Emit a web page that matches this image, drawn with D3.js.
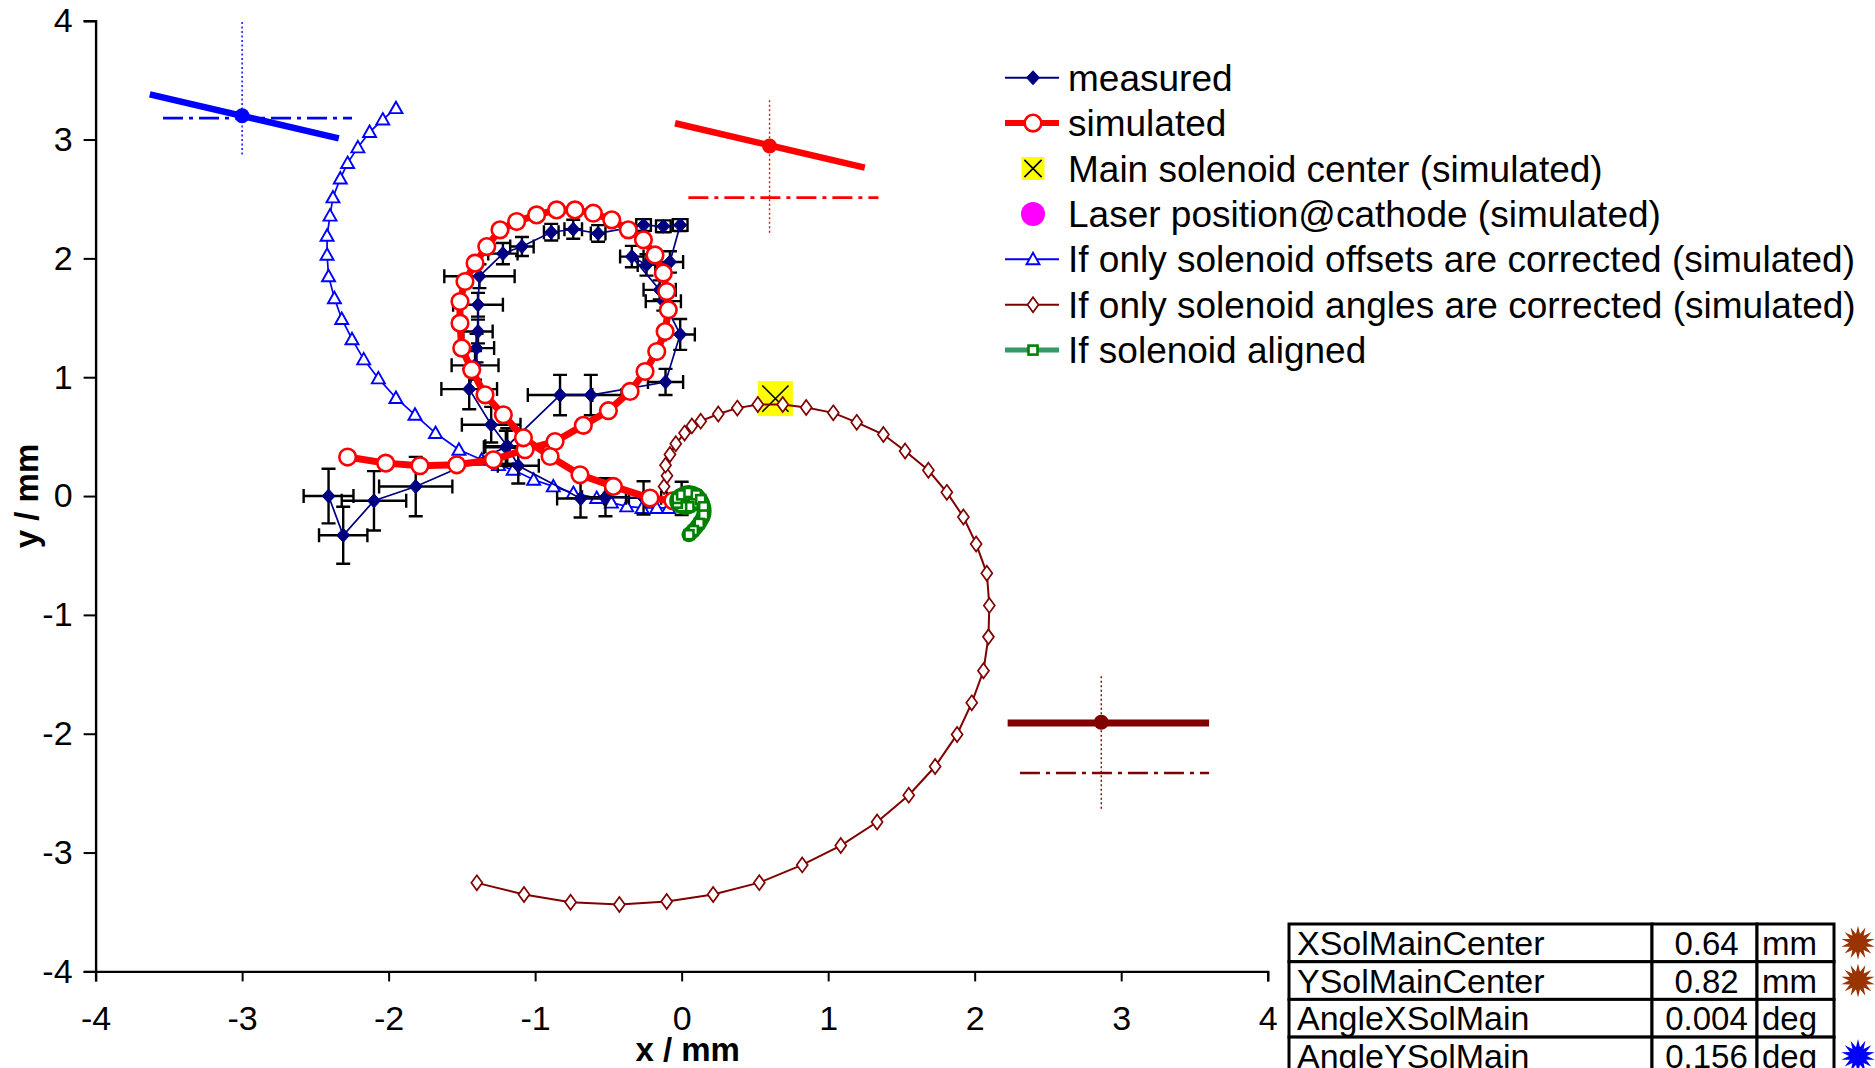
<!DOCTYPE html>
<html><head><meta charset="utf-8">
<script src="https://cdn.jsdelivr.net/npm/d3@7"></script>
<style>
html,body{margin:0;padding:0;background:#fff;}
svg{display:block;}
text{font-family:"Liberation Sans",Arial,sans-serif;fill:#000;}
</style></head><body>
<svg id="chart" width="1875" height="1068"></svg>
<script>
// ---- axis ticks ----
const xTicks = [-4, -3, -2, -1, 0, 1, 2, 3, 4];
const yTicks = [-4, -3, -2, -1, 0, 1, 2, 3, 4];

// ---- measured beam positions (mm) with errors ----
const measX  = [0.00,-0.26,-0.52,-0.69,-1.115,-1.19,-1.30,-1.45,-1.41,-1.40,-1.39,-1.39,-1.38,-1.22,-1.09,-0.89,-0.74,-0.57,-0.26,-0.125,-0.01,-0.08,-0.24,-0.34,-0.15,-0.125,-0.01,-0.11,-0.62,-0.83,-1.20,-1.815,-2.10,-2.31,-2.41];
const measY  = [-0.02,-0.015,-0.01,-0.02,0.255,0.42,0.60,0.90,1.10,1.245,1.385,1.61,1.85,2.04,2.10,2.22,2.245,2.21,2.28,2.27,2.28,1.97,1.945,2.015,1.735,1.64,1.36,0.96,0.85,0.85,0.41,0.08,-0.04,-0.33,0.00];
const measEx = [0.10,0.12,0.16,0.16,0.14,0.15,0.20,0.19,0.16,0.12,0.10,0.17,0.24,0.10,0.08,0.05,0.06,0.05,0.05,0.05,0.05,0.09,0.06,0.08,0.11,0.12,0.10,0.12,0.21,0.22,0.15,0.25,0.22,0.165,0.17];
const measEy = [0.14,0.14,0.16,0.16,0.15,0.15,0.15,0.17,0.12,0.12,0.10,0.10,0.10,0.09,0.08,0.07,0.08,0.07,0.05,0.05,0.05,0.09,0.09,0.09,0.08,0.08,0.13,0.11,0.17,0.17,0.14,0.25,0.25,0.24,0.23];

// ---- simulated trajectory ----
const simX = [-2.28,-2.02,-1.786,-1.535,-1.285,-1.069,-0.864,-0.671,-0.50,-0.352,-0.25,-0.17,-0.113,-0.091,-0.102,-0.125,-0.182,-0.261,-0.364,-0.477,-0.603,-0.728,-0.853,-0.99,-1.126,-1.24,-1.33,-1.41,-1.479,-1.513,-1.513,-1.501,-1.433,-1.342,-1.217,-1.08,-0.898,-0.694,-0.466,-0.216,-0.06];
const simY = [0.328,0.277,0.255,0.263,0.305,0.39,0.459,0.595,0.718,0.88,1.048,1.216,1.384,1.567,1.721,1.876,2.029,2.156,2.24,2.324,2.38,2.408,2.408,2.366,2.31,2.24,2.099,1.96,1.805,1.637,1.455,1.245,1.062,0.852,0.684,0.49,0.333,0.179,0.081,-0.017,-0.04];

// ---- main solenoid center (simulated) and laser spot ----
const solCenterX = [0.64], solCenterY = [0.82];
const laserX = [0.02], laserY = [-0.03];

// ---- only solenoid offsets corrected ----
const offX = [-1.95,-2.04,-2.13,-2.21,-2.28,-2.33,-2.38,-2.40,-2.42,-2.42,-2.41,-2.37,-2.32,-2.25,-2.17,-2.07,-1.95,-1.82,-1.68,-1.52,-1.365,-1.25,-1.15,-1.01,-0.876,-0.739,-0.58,-0.48,-0.375,-0.27,-0.17,-0.09];
const offY = [3.264,3.168,3.063,2.934,2.802,2.672,2.513,2.36,2.19,2.03,1.85,1.665,1.49,1.32,1.15,0.99,0.825,0.684,0.53,0.39,0.305,0.26,0.221,0.137,0.081,0.025,-0.017,-0.055,-0.087,-0.10,-0.10,-0.10];

// ---- only solenoid angles corrected ----
const angX = [-0.12,-0.10,-0.11,-0.08,-0.04,0.02,0.07,0.13,0.25,0.38,0.52,0.69,0.85,1.035,1.195,1.377,1.525,1.684,1.81,1.923,2.01,2.083,2.10,2.094,2.06,1.98,1.88,1.73,1.55,1.334,1.086,0.823,0.53,0.215,-0.102,-0.425,-0.758,-1.076,-1.398];
const angY = [0.08,0.17,0.26,0.35,0.44,0.53,0.59,0.63,0.69,0.74,0.77,0.77,0.745,0.70,0.62,0.518,0.379,0.217,0.031,-0.176,-0.403,-0.65,-0.92,-1.185,-1.47,-1.74,-2.006,-2.276,-2.517,-2.743,-2.941,-3.104,-3.253,-3.353,-3.412,-3.437,-3.418,-3.353,-3.255];

// ---- solenoid aligned ----
const algX = [0.02,0.05,0.08,0.08,0.05,0.00,-0.03,-0.03,0.00,0.05,0.10,0.13,0.15,0.15,0.12,0.08,0.05];
const algY = [-0.03,0.00,-0.02,-0.06,-0.09,-0.09,-0.06,-0.02,0.01,0.03,0.01,-0.03,-0.09,-0.16,-0.23,-0.29,-0.325];

// ---- beam direction indicators (mm) ----
const indBlue    = {lx:[-3.63,-2.34], ly:[3.38,3.01], px:-3.0,  py:3.20,  vy:[3.99,2.86],  hy:3.18,  hx:[-3.54,-2.25]};
const indRed     = {lx:[-0.045,1.25], ly:[3.137,2.764], px:0.60, py:2.946, vy:[3.33,2.20], hy:2.511, hx:[0.046,1.343]};
const indDarkRed = {lx:[2.225,3.60], ly:[-1.909,-1.909], px:2.864, py:-1.904, vy:[-1.517,-2.638], hy:-2.33, hx:[2.309,3.60]};

// ---- legend labels ----
const legendLabels = ["measured","simulated","Main solenoid center (simulated)","Laser position@cathode (simulated)","If only solenoid offsets are corrected (simulated)","If only solenoid angles are corrected (simulated)","If solenoid aligned"];

// ---- parameter table ----
const tableNames  = ["XSolMainCenter","YSolMainCenter","AngleXSolMain","AngleYSolMain"];
const tableValues = ["0.64","0.82","0.004","0.156"];
const tableUnits  = ["mm","mm","deg","deg"];
const tableStars  = ["#993300","#993300",null,"#0000FF"];

// ================= drawing =================
const svg = d3.select("#chart");
const x = d3.scaleLinear().domain([-4, 4]).range([95.6, 1267.7]);
const y = d3.scaleLinear().domain([-4, 4]).range([971.4, 20.7]);

const C = {navy:"#000080", red:"#FF0000", blue:"#0000FF", brown:"#800000", green:"#008000", greenLine:"#339966", magenta:"#FF00FF", yellow:"#FFFF00"};
const minus = d => d < 0 ? "-" + Math.abs(d) : String(d);

// axes
const gx = svg.append("g").attr("transform", `translate(0,${y(-4)})`)
  .call(d3.axisBottom(x).tickValues(xTicks).tickSize(10).tickPadding(24).tickFormat(minus));
const gy = svg.append("g").attr("transform", `translate(${x(-4)},0)`)
  .call(d3.axisLeft(y).tickValues(yTicks).tickSize(12).tickPadding(11).tickFormat(minus));
[gx, gy].forEach(g => {
  g.select(".domain").attr("stroke", "#000").attr("stroke-width", 2.4);
  g.selectAll(".tick line").attr("stroke", "#000").attr("stroke-width", 2);
  g.selectAll(".tick text").attr("font-size", 34).attr("font-family", "Liberation Sans, Arial, sans-serif").attr("fill", "#000");
});

svg.append("text").attr("x", x(0) + 6).attr("y", 1061).attr("text-anchor", "middle")
  .attr("font-size", 33).attr("font-weight", "bold").text("x / mm");
svg.append("text").attr("transform", `translate(38,${y(0)}) rotate(-90)`).attr("text-anchor", "middle")
  .attr("font-size", 33).attr("font-weight", "bold").text("y / mm");

// marker shapes
function marker(g, type, cx, cy, size) {
  switch (type) {
    case "measured":
      g.append("path").attr("d", `M${cx},${cy-7}L${cx+6.5},${cy}L${cx},${cy+7}L${cx-6.5},${cy}Z`).attr("fill", C.navy).attr("stroke", C.navy).attr("stroke-width", 1);
      break;
    case "simulated":
      g.append("circle").attr("cx", cx).attr("cy", cy).attr("r", 8.3).attr("fill", "#fff").attr("stroke", C.red).attr("stroke-width", 2.6);
      break;
    case "offsets":
      g.append("path").attr("d", `M${cx},${cy-6.5}L${cx+6.5},${cy+5}L${cx-6.5},${cy+5}Z`).attr("fill", "#fff").attr("stroke", C.blue).attr("stroke-width", 1.9);
      break;
    case "angles":
      g.append("path").attr("d", `M${cx},${cy-7.5}L${cx+5.5},${cy}L${cx},${cy+7.5}L${cx-5.5},${cy}Z`).attr("fill", "#fff").attr("stroke", C.brown).attr("stroke-width", 1.7);
      break;
    case "aligned":
      g.append("rect").attr("x", cx-4.5).attr("y", cy-4.5).attr("width", 9).attr("height", 9).attr("fill", "#fff").attr("stroke", C.green).attr("stroke-width", 2.6);
      break;
    case "laser":
      g.append("circle").attr("cx", cx).attr("cy", cy).attr("r", 12).attr("fill", C.magenta);
      break;
    case "center": {
      const s = size || 12;
      g.append("rect").attr("x", cx-s).attr("y", cy-s).attr("width", 2*s).attr("height", 2*s).attr("fill", C.yellow);
      g.append("path").attr("d", `M${cx-s*0.75},${cy-s*0.75}L${cx+s*0.75},${cy+s*0.75}M${cx+s*0.75},${cy-s*0.75}L${cx-s*0.75},${cy+s*0.75}`)
        .attr("stroke", "#000").attr("stroke-width", 1.6);
      break;
    }
  }
}

const line = d3.line().x(d => x(d[0])).y(d => y(d[1]));
const zip = (a, b) => a.map((v, i) => [v, b[i]]);

const plot = svg.append("g");

// beam direction indicators
[[indBlue, C.blue, 6.5], [indRed, C.red, 6.5], [indDarkRed, C.brown, 7]].forEach(([d, col, w]) => {
  const g = plot.append("g");
  g.append("line").attr("x1", x(d.px)).attr("x2", x(d.px)).attr("y1", y(d.vy[0])).attr("y2", y(d.vy[1]))
    .attr("stroke", col).attr("stroke-width", 1.4).attr("stroke-dasharray", "2,2.5");
  g.append("line").attr("x1", x(d.hx[0])).attr("x2", x(d.hx[1])).attr("y1", y(d.hy)).attr("y2", y(d.hy))
    .attr("stroke", col).attr("stroke-width", 2.6).attr("stroke-dasharray", "20,6,4,6");
  g.append("line").attr("x1", x(d.lx[0])).attr("x2", x(d.lx[1])).attr("y1", y(d.ly[0])).attr("y2", y(d.ly[1]))
    .attr("stroke", col).attr("stroke-width", w);
  g.append("circle").attr("cx", x(d.px)).attr("cy", y(d.py)).attr("r", 7.5).attr("fill", col);
});

// main solenoid center
marker(plot, "center", x(solCenterX[0]), y(solCenterY[0]), 17.5);
// laser position
marker(plot, "laser", x(laserX[0]), y(laserY[0]));

// offsets corrected
const offPts = zip(offX, offY);
plot.append("path").attr("d", line(offPts)).attr("fill", "none").attr("stroke", C.blue).attr("stroke-width", 1.7);
offPts.forEach(p => marker(plot, "offsets", x(p[0]), y(p[1])));

// angles corrected
const angPts = zip(angX, angY);
plot.append("path").attr("d", line(angPts)).attr("fill", "none").attr("stroke", C.brown).attr("stroke-width", 2);
angPts.forEach(p => marker(plot, "angles", x(p[0]), y(p[1])));

// measured with error bars
const measPts = zip(measX, measY);
const eb = plot.append("g").attr("stroke", "#000").attr("stroke-width", 2.4);
measPts.forEach((p, i) => {
  const cx = x(p[0]), cy = y(p[1]);
  const xl = x(p[0] - measEx[i]), xr = x(p[0] + measEx[i]);
  const yt = y(p[1] + measEy[i]), yb = y(p[1] - measEy[i]);
  eb.append("path").attr("fill", "none").attr("d",
    `M${xl},${cy}H${xr}M${xl},${cy-7}V${cy+7}M${xr},${cy-7}V${cy+7}` +
    `M${cx},${yt}V${yb}M${cx-7},${yt}H${cx+7}M${cx-7},${yb}H${cx+7}`);
});
plot.append("path").attr("d", line(measPts)).attr("fill", "none").attr("stroke", C.navy).attr("stroke-width", 1.7);
measPts.forEach(p => marker(plot, "measured", x(p[0]), y(p[1])));

// simulated
const simPts = zip(simX, simY);
plot.append("path").attr("d", line(simPts)).attr("fill", "none").attr("stroke", C.red).attr("stroke-width", 7).attr("stroke-linejoin", "round");
simPts.forEach(p => marker(plot, "simulated", x(p[0]), y(p[1])));

// aligned
const algPts = zip(algX, algY);
plot.append("path").attr("d", d3.line().x(d => x(d[0])).y(d => y(d[1])).curve(d3.curveCatmullRom)(algPts))
  .attr("fill", "none").attr("stroke", C.green).attr("stroke-width", 15).attr("stroke-linejoin", "round").attr("stroke-linecap", "round");
algPts.forEach(p => marker(plot, "aligned", x(p[0]), y(p[1])));

// legend
const leg = svg.append("g");
const legTypes = ["measured","simulated","center","laser","offsets","angles","aligned"];
const legLine  = [[C.navy,2],[C.red,6],null,null,[C.blue,2],[C.brown,2],[C.greenLine,5]];
legendLabels.forEach((lab, i) => {
  const cy = 77.7 + i * 45.4;
  if (legLine[i]) leg.append("line").attr("x1", 1005).attr("x2", 1059).attr("y1", cy).attr("y2", cy)
    .attr("stroke", legLine[i][0]).attr("stroke-width", legLine[i][1]);
  marker(leg, legTypes[i], 1033, cy, 11.5);
  leg.append("text").attr("x", 1068).attr("y", cy + 13).attr("font-size", 37).text(lab);
});

// parameter table
const tb = svg.append("g");
const colX = [1289, 1652, 1757, 1834];
const rowH = 37.7, top0 = 924;
tableNames.forEach((nm, i) => {
  const ty = top0 + i * rowH;
  for (let c = 0; c < 3; c++) {
    tb.append("rect").attr("x", colX[c]).attr("y", ty).attr("width", colX[c+1] - colX[c]).attr("height", rowH)
      .attr("fill", "#fff").attr("stroke", "#000").attr("stroke-width", 3);
  }
  tb.append("text").attr("x", 1297).attr("y", ty + 31).attr("font-size", 34).text(nm);
  tb.append("text").attr("x", (colX[1] + colX[2]) / 2 + 2).attr("y", ty + 31).attr("font-size", 33).attr("text-anchor", "middle").text(tableValues[i]);
  tb.append("text").attr("x", 1762).attr("y", ty + 31).attr("font-size", 33).text(tableUnits[i]);
  if (tableStars[i]) {
    const n = 14, ro = 17, ri = 9, cx = 1858, cy = ty + rowH / 2;
    const pts = d3.range(2 * n).map(k => {
      const a = Math.PI * k / n, r = k % 2 ? ri : ro;
      return [cx + r * Math.sin(a), cy - r * Math.cos(a)];
    });
    tb.append("path").attr("d", "M" + pts.join("L") + "Z").attr("fill", tableStars[i]);
  }
});
</script></body></html>
